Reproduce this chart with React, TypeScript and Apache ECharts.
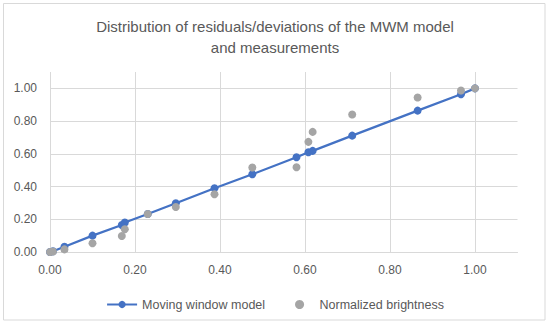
import React, { useEffect, useRef } from "react";
import * as echarts from "echarts";

const xValues = [0, 0.007, 0.034, 0.1, 0.169, 0.176, 0.23, 0.296, 0.387, 0.476, 0.58, 0.608, 0.618, 0.711, 0.865, 0.967, 1.0];
const modelValues = [0, 0.005, 0.032, 0.1, 0.165, 0.18, 0.232, 0.298, 0.39, 0.475, 0.579, 0.61, 0.618, 0.711, 0.864, 0.964, 1.0];
const brightnessValues = [0, 0.003, 0.016, 0.053, 0.098, 0.139, 0.232, 0.275, 0.353, 0.516, 0.518, 0.673, 0.734, 0.84, 0.944, 0.987, 1.0];
const seriesNames = ["Moving window model", "Normalized brightness"];
const titleText = "Distribution of residuals/deviations of the MWM model\nand measurements";

const FONT = "'Liberation Sans', Arial, sans-serif";
const TEXT = "#595959";
const GRIDC = "#d9d9d9";

export default function App() {
  const ref = useRef<HTMLDivElement>(null);
  useEffect(() => {
    if (!ref.current) return;
    const chart = echarts.init(ref.current, null, { renderer: "svg" });
    const modelData = xValues.map((x, i) => [x, modelValues[i]]);
    const brightData = xValues.map((x, i) => [x, brightnessValues[i]]);
    chart.setOption({
      animation: false,
      backgroundColor: "#ffffff",
      textStyle: { fontFamily: FONT },
      title: {
        text: titleText,
        left: "center",
        top: 16,
        padding: 0,
        textStyle: {
          fontSize: 15,
          fontWeight: "normal",
          color: TEXT,
          lineHeight: 21,
          fontFamily: FONT,
        },
      },
      graphic: [
        {
          type: "rect",
          shape: { x: 3.5, y: 3.5, width: 541.5, height: 316.5 },
          style: { fill: "none", stroke: GRIDC, lineWidth: 1 },
          silent: true,
          z: -1,
        },
      ],
      grid: { left: 50, right: 32.5, top: 72, bottom: 74, containLabel: false },
      xAxis: {
        type: "value",
        min: 0,
        max: 1.1,
        interval: 0.2,
        axisLine: { show: true, lineStyle: { color: GRIDC, width: 1 } },
        axisTick: { show: false },
        axisLabel: {
          color: TEXT,
          fontSize: 12,
          fontFamily: FONT,
          margin: 12,
          showMaxLabel: false,
          formatter: (v: number) => v.toFixed(2),
        },
        splitLine: { show: true, showMaxLine: false, lineStyle: { color: GRIDC, width: 1 } },
      },
      yAxis: {
        type: "value",
        min: 0,
        max: 1.1,
        interval: 0.2,
        axisLine: { show: false },
        axisTick: { show: false },
        axisLabel: {
          color: TEXT,
          fontSize: 12,
          fontFamily: FONT,
          margin: 13,
          showMaxLabel: false,
          formatter: (v: number) => v.toFixed(2),
        },
        splitLine: { show: true, showMaxLine: false, lineStyle: { color: GRIDC, width: 1 } },
      },
      legend: {
        data: seriesNames,
        left: "center",
        top: 293,
        itemWidth: 30,
        itemHeight: 9,
        itemGap: 30,
        textStyle: { color: TEXT, fontSize: 12.5, fontFamily: FONT },
      },
      series: [
        {
          name: seriesNames[0],
          type: "line",
          data: modelData,
          symbol: "circle",
          symbolSize: 8,
          itemStyle: { color: "#4472C4" },
          lineStyle: { color: "#4472C4", width: 2.25 },
          z: 2,
        },
        {
          name: seriesNames[1],
          type: "scatter",
          data: brightData,
          symbol: "circle",
          symbolSize: 8,
          itemStyle: { color: "#A5A5A5", opacity: 1 },
          z: 3,
        },
      ],
    });
    return () => chart.dispose();
  }, []);
  return (
    <div
      ref={ref}
      style={{ position: "absolute", left: 0, top: 0, width: 550, height: 326 }}
    />
  );
}
